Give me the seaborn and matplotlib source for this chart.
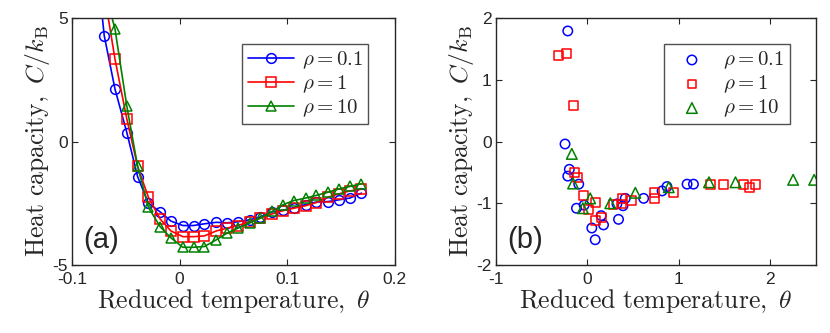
import matplotlib
matplotlib.use("Agg")
import matplotlib.pyplot as plt
import seaborn as sns
import numpy as np
import pandas as pd

# ---- panel (a): heat capacity vs reduced temperature, lines + markers ----
theta_a = [-0.080, -0.070, -0.060, -0.049, -0.039, -0.029, -0.018, -0.008, 0.003, 0.013,
           0.023, 0.034, 0.044, 0.054, 0.065, 0.075, 0.086, 0.096, 0.106, 0.117,
           0.127, 0.138, 0.148, 0.158, 0.169]
c_a_01 = [8.5, 4.28, 2.12, 0.36, -1.42, -2.49, -2.85, -3.22, -3.40, -3.40,
          -3.33, -3.27, -3.29, -3.25, -3.17, -3.05, -2.85, -2.78, -2.68, -2.55,
          -2.45, -2.43, -2.36, -2.29, -2.09]
c_a_1 = [8.0, 6.0, 3.33, 0.91, -1.01, -2.25, -3.14, -3.62, -3.85, -3.85,
         -3.82, -3.62, -3.51, -3.40, -3.25, -3.10, -2.93, -2.80, -2.70, -2.60,
         -2.47, -2.25, -2.12, -2.00, -1.93]
c_a_10 = [8.0, 6.2, 4.55, 1.42, -1.00, -2.66, -3.45, -3.90, -4.28, -4.28,
          -4.25, -3.98, -3.71, -3.51, -3.30, -3.10, -2.83, -2.56, -2.39, -2.29,
          -2.18, -2.05, -1.92, -1.82, -1.71]

# ---- panel (b): scattered estimates ----
theta_b_01 = [-0.215, -0.245, -0.198, -0.215, -0.095, -0.120, -0.036, 0.048, 0.085, 0.176,
              0.150, 0.340, 0.323, 0.389, 0.414, 0.615, 0.817, 0.870, 1.090, 1.160]
c_b_01 = [1.79, -0.04, -0.45, -0.56, -0.69, -1.08, -1.03, -1.40, -1.59, -1.35,
          -1.20, -1.26, -1.01, -1.04, -0.92, -0.92, -0.80, -0.73, -0.69, -0.69]
theta_b_1 = [-0.318, -0.226, -0.154, -0.140, -0.110, -0.044, 0.011, 0.085, 0.085, 0.158,
             0.280, 0.378, 0.378, 0.480, 0.730, 0.730, 0.940, 1.350, 1.490, 1.710,
             1.770, 1.840]
c_b_1 = [1.39, 1.42, 0.58, -0.50, -0.58, -0.88, -1.10, -0.99, -1.28, -1.23,
         -1.02, -0.92, -1.01, -0.96, -0.83, -0.92, -0.83, -0.69, -0.69, -0.69,
         -0.74, -0.69]
theta_b_10 = [-0.171, -0.157, -0.050, 0.030, 0.250, 0.524, 0.890, 1.330, 1.620, 2.250, 2.480]
c_b_10 = [-0.20, -0.68, -1.08, -0.92, -1.00, -0.83, -0.74, -0.66, -0.66, -0.62, -0.62]

labels = [r'$\rho = 0.1$', r'$\rho = 1$', r'$\rho = 10$']
colors = ['#0000ff', '#ff0000', '#008000']
markers = ['o', 's', '^']
scatter_sizes = [46, 40, 58]

sns.set_style("ticks")
plt.rcParams['font.family'] = ['Liberation Sans', 'DejaVu Sans']
plt.rcParams['mathtext.fontset'] = 'cm'
plt.rcParams['axes.linewidth'] = 1.0

fig = plt.figure(figsize=(8.3, 3.33), dpi=100)
ax1 = fig.add_axes([0.0867, 0.204, 0.389, 0.742])
ax2 = fig.add_axes([0.5976, 0.204, 0.3855, 0.742])

for ys, lab, col, mk in zip([c_a_01, c_a_1, c_a_10], labels, colors, markers):
    sns.lineplot(x=theta_a, y=ys, ax=ax1, color=col, marker=mk, label=lab,
                 estimator=None, sort=True, linewidth=1.2, markersize=7,
                 markerfacecolor='none', markeredgecolor=col, markeredgewidth=1.1)

for xs, ys, lab, col, mk, sz in zip([theta_b_01, theta_b_1, theta_b_10],
                                    [c_b_01, c_b_1, c_b_10], labels, colors, markers,
                                    scatter_sizes):
    sns.scatterplot(x=xs, y=ys, ax=ax2, marker=mk, label=lab, s=sz,
                    facecolor='none', edgecolor=col, linewidth=1.1)

ax1.set_xlim(-0.1, 0.2)
ax1.set_ylim(-5, 5)
ax1.set_xticks([-0.1, 0, 0.1, 0.2])
ax1.set_xticklabels(['-0.1', '0', '0.1', '0.2'])
ax1.set_yticks([-5, 0, 5])
ax1.set_yticklabels(['-5', '0', '5'])

ax2.set_xlim(-1, 2.5)
ax2.set_ylim(-2, 2)
ax2.set_xticks([-1, 0, 1, 2])
ax2.set_xticklabels(['-1', '0', '1', '2'])
ax2.set_yticks([-2, -1, 0, 1, 2])
ax2.set_yticklabels(['-2', '-1', '0', '1', '2'])

for ax, tag in [(ax1, '(a)'), (ax2, '(b)')]:
    ax.tick_params(direction='in', top=True, right=True, length=4, width=0.8,
                   labelsize=12.5, pad=3)
    ax.tick_params(axis='x', pad=5)
    for sp in ax.spines.values():
        sp.set_visible(True)
        sp.set_color('#262626')
    ax.set_xlabel(r'$\mathrm{Reduced\ temperature,}\ \theta$', fontsize=18.5, labelpad=0)
    ax.set_ylabel(r'$\mathrm{Heat\ capacity,}\ C/k_\mathrm{B}$', fontsize=18.5, labelpad=0)
    ax.text(0.035, 0.045, tag, transform=ax.transAxes, fontsize=21, ha='left', va='bottom')
    leg = ax.legend(loc='upper right', bbox_to_anchor=(0.95, 0.935), fontsize=15,
                    frameon=True, fancybox=False, edgecolor='#262626', handlelength=2.2,
                    borderpad=0.25, labelspacing=0.12, handletextpad=0.4)
    leg.get_frame().set_linewidth(1.0)

fig.savefig('out.png', dpi=100)
